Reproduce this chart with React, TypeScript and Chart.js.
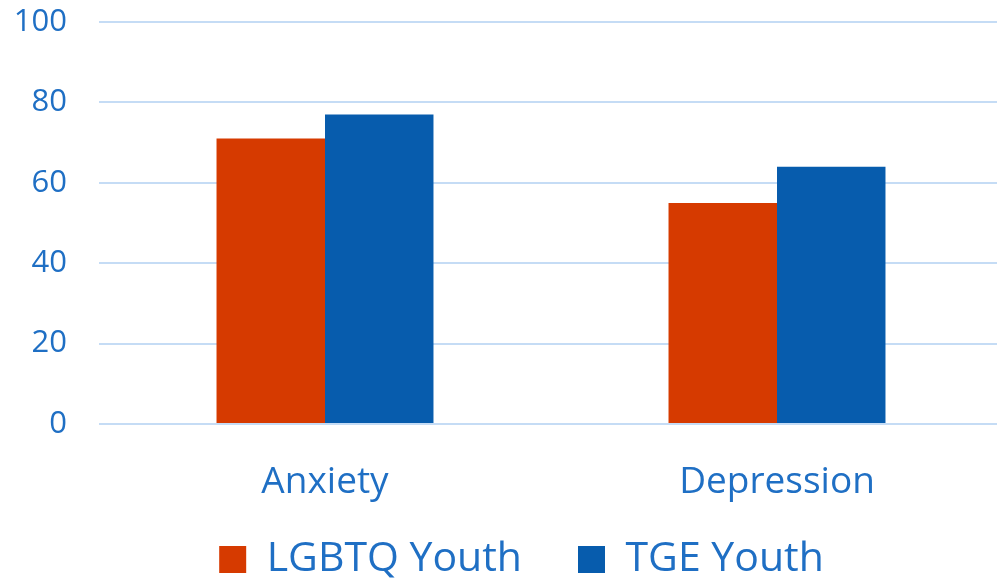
import React, { useEffect, useRef } from "react";
import { Chart, registerables } from "chart.js";

Chart.register(...registerables);

const categories = ["Anxiety", "Depression"];
const lgbtqYouth = [71, 55];
const tgeYouth = [77, 64];
const seriesNames = ["LGBTQ Youth", "TGE Youth"];
const yTicks = [0, 20, 40, 60, 80, 100];

const TEXT = "#1f6fc4";
const FONT = "'Open Sans', 'Noto Sans', sans-serif";
const CANVAS_W = 1003;
const CANVAS_H = 611;

const legendShift = {
  id: "legendShift",
  afterLayout(chart: any) {
    const lg = chart.legend;
    if (!lg) return;
    lg.top -= 21;
    lg.bottom -= 21;
    lg.left += 14;
    lg.right += 14;
  },
};

export default function App() {
  const ref = useRef<HTMLCanvasElement | null>(null);
  useEffect(() => {
    if (!ref.current) return;
    const chart = new Chart(ref.current, {
      type: "bar",
      data: {
        labels: categories,
        datasets: [
          { label: seriesNames[0], data: lgbtqYouth, backgroundColor: "#d63a00", categoryPercentage: 0.48, barPercentage: 1 },
          { label: seriesNames[1], data: tgeYouth, backgroundColor: "#075cad", categoryPercentage: 0.48, barPercentage: 1 },
        ],
      },
      plugins: [legendShift],
      options: {
        animation: false,
        responsive: false,
        maintainAspectRatio: false,
        layout: { padding: { top: 0, right: 0, left: 12, bottom: 0 } },
        plugins: {
          tooltip: { enabled: false },
          legend: {
            position: "bottom",
            labels: {
              boxWidth: 27,
              boxHeight: 27,
              padding: 56,
              color: TEXT,
              font: { family: FONT, size: 41 },
            },
          },
        },
        scales: {
          x: {
            grid: { display: false },
            border: { display: false },
            ticks: { color: TEXT, padding: 28, font: { family: FONT, size: 37 } },
            afterFit: (s: any) => {
              s.height = 80;
              s.paddingLeft = 0;
              s.paddingRight = 0;
            },
          },
          y: {
            min: yTicks[0],
            max: yTicks[yTicks.length - 1],
            grid: { color: "#c5dcf5", lineWidth: 2, drawTicks: false },
            border: { display: false },
            ticks: { stepSize: 20, color: TEXT, padding: 32, font: { family: FONT, size: 31 } },
            afterFit: (s: any) => {
              s.width = 87;
              s.paddingTop = 22;
              s.paddingBottom = 0;
            },
          },
        },
      },
    });
    return () => chart.destroy();
  }, []);
  return (
    <div style={{ position: "absolute", left: 0, top: 0, width: 997, height: 579, overflow: "hidden", background: "#fff" }}>
      <canvas ref={ref} width={CANVAS_W} height={CANVAS_H} style={{ width: CANVAS_W, height: CANVAS_H, display: "block" }} />
    </div>
  );
}
